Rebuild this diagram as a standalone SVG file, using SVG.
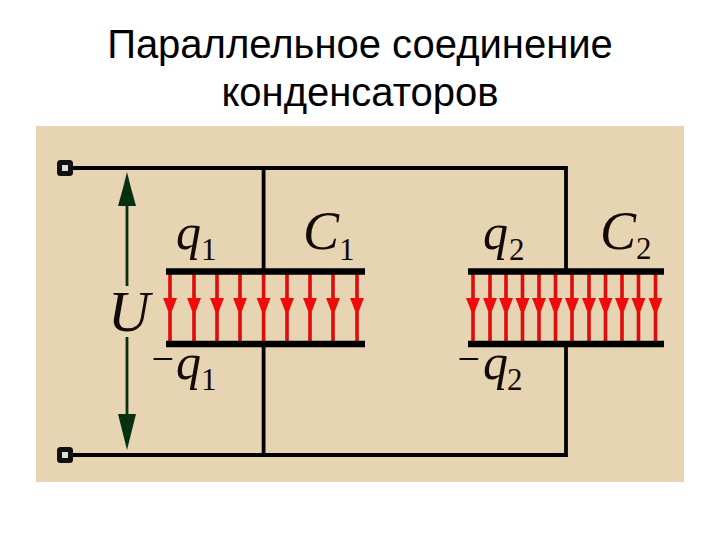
<svg xmlns="http://www.w3.org/2000/svg" width="720" height="540" viewBox="0 0 720 540">
<defs>
<g id="ra"><rect x="-1.8" y="0" width="3.6" height="70" fill="#e00c0c"/><path d="M-7 0H7L5 5L2 13H-2L-5 5Z" transform="translate(0,25)" fill="#f00a0a"/></g>
</defs>
<style>
.title{font-family:"Liberation Sans",Arial,sans-serif;font-size:40px;fill:#000;text-anchor:middle}
.w{stroke:#000;stroke-width:3.8;fill:none}
.p{stroke:#000;stroke-width:6.5;fill:none}
.g{stroke:#06300f;stroke-width:2.8;fill:none}
.ah{fill:#06300f}
.tm{fill:#ddd;stroke:#111;stroke-width:5}
.t{font-family:"Liberation Serif","DejaVu Serif",serif;font-style:italic;fill:#120a06}
.q{font-size:50px}.c{font-size:54px}.u{font-size:58px}.m{font-size:40px}.s{font-size:31px;font-style:normal}
</style>
<rect width="720" height="540" fill="#fff"/>
<text class="title" x="360" y="58">Параллельное соединение</text>
<text class="title" x="360" y="106">конденсаторов</text>
<rect x="36" y="126" width="648" height="356" fill="#e6d4b2"/>
<g id="connectors">
<path class="w" d="M72 168H566V272M72 455H566V344M263.600 168V272M263.600 344V455"/>
<path class="g" d="M127 200V286M127 337V420"/>
<path class="ah" d="M127 172L131 188L136 206H118L123 188Z"/>
<path class="ah" d="M127 450L131 434L136 414H118L123 434Z"/>
</g>
<g id="terminal-top"><rect class="tm" x="59.500" y="162.500" width="11" height="11" rx="1"/></g>
<g id="terminal-bottom"><rect class="tm" x="59.500" y="449.500" width="11" height="11" rx="1"/></g>
<g id="capacitor-1">
<g transform="translate(0,273)">
<use href="#ra" x="170"/><use href="#ra" x="194"/><use href="#ra" x="217"/><use href="#ra" x="240"/><use href="#ra" x="263.600"/><use href="#ra" x="287"/><use href="#ra" x="310"/><use href="#ra" x="333"/><use href="#ra" x="357"/>
</g>
<path class="p" d="M166 271.500H365M166 344H365"/>
</g>
<g id="capacitor-2">
<g transform="translate(0,273)">
<use href="#ra" x="473"/><use href="#ra" x="490"/><use href="#ra" x="506"/><use href="#ra" x="522.500"/><use href="#ra" x="539"/><use href="#ra" x="555.500"/><use href="#ra" x="572"/><use href="#ra" x="589"/><use href="#ra" x="605.500"/><use href="#ra" x="622"/><use href="#ra" x="638.500"/><use href="#ra" x="655.500"/>
</g>
<path class="p" d="M468 271.500H664M468 344H664"/>
</g>
<g id="labels">
<text class="t q" x="176" y="249">q</text><text class="t s" x="201" y="260">1</text>
<text class="t c" x="303" y="249">C</text><text class="t s" x="339" y="260">1</text>
<text class="t q" x="483" y="249">q</text><text class="t s" x="509" y="260">2</text>
<text class="t c" x="600" y="249">C</text><text class="t s" x="636" y="259">2</text>
<text class="t u" x="108" y="331">U</text>
<text class="t m" x="149" y="372">−</text><text class="t q" x="176" y="379">q</text><text class="t s" x="201" y="390">1</text>
<text class="t m" x="455" y="372">−</text><text class="t q" x="483" y="379">q</text><text class="t s" x="507" y="390">2</text>
</g>
</svg>
